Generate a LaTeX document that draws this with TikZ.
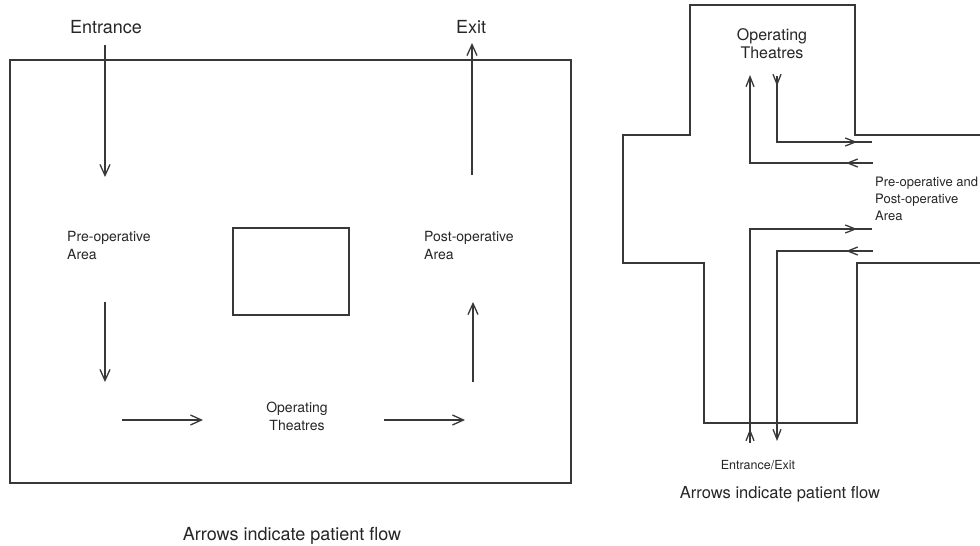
\documentclass[tikz,border=0pt]{standalone}
\usepackage{fontspec}
\setmainfont{TeX Gyre Heros}
\usetikzlibrary{arrows.meta}
\begin{document}
\begin{tikzpicture}[x=1pt,y=-1pt,
  wall/.style={draw=black!78, line width=1.3pt, line join=miter},
  flow/.style={draw=black!78, line width=1.3pt, -{Straight Barb[length=11pt,width=10pt]}},
  sflow/.style={draw=black!78, line width=1.3pt, -{Straight Barb[length=10pt,width=8pt]}},
  lab/.style={inner sep=0pt, text=black!85, align=left},
  clab/.style={inner sep=0pt, text=black!85, align=center}
]
\useasboundingbox (0,0) rectangle (980,546);

% ---------- left plan ----------
\draw[wall] (10,60) rectangle (571,483);
\draw[wall] (233,228) rectangle (349,315);

\node[clab, font=\fontsize{18}{22}\selectfont] (entr) at (106,27) {Entrance};
\node[clab, font=\fontsize{18}{22}\selectfont] (exit) at (471,27) {Exit};
\node[lab, anchor=west, font=\fontsize{14}{18}\selectfont] (pre) at (67,245) {Pre-operative\\Area};
\node[lab, anchor=west, font=\fontsize{14}{18}\selectfont] (post) at (424,245) {Post-operative\\Area};
\node[clab, font=\fontsize{14}{18}\selectfont] (ot) at (297,416) {Operating\\Theatres};
\node[clab, font=\fontsize{18}{22}\selectfont] (capL) at (292,536) {Arrows indicate patient flow};

\draw[flow] (105,45) -- (105,177);
\draw[flow] (472,175) -- (472,43);
\draw[flow] (105,302) -- (105,382);
\draw[flow] (122,420) -- (203,420);
\draw[flow] (384,420) -- (465,420);
\draw[flow] (473,382) -- (473,302);

% ---------- right plan (cross) ----------
\draw[wall] (980,135) -- (855,135) -- (855,5) -- (690,5) -- (690,135) -- (623,135)
  -- (623,263) -- (704,263) -- (704,423) -- (857,423) -- (857,263) -- (980,263);

\node[clab, font=\fontsize{16}{18}\selectfont] (otR) at (772,44) {Operating\\Theatres};
\node[lab, anchor=west, font=\fontsize{13}{17}\selectfont] (area) at (875,199) {Pre-operative and\\Post-operative\\Area};
\node[clab, font=\fontsize{12.5}{15}\selectfont] (ee) at (758,465) {Entrance/Exit};
\node[clab, font=\fontsize{16.5}{20}\selectfont] (capR) at (780,494) {Arrows indicate patient flow};

% theatres -> area
\draw[wall] (777,76) -- (777,142) -- (872,142);
\draw[sflow] (777,76) -- (777,86);
\draw[sflow] (840,142) -- (857,142);
% area -> theatres
\draw[sflow] (873,163) -- (750,163) -- (750,75);
\draw[sflow] (865,163) -- (846,163);
% entrance -> area
\draw[wall] (750,443) -- (750,229) -- (872,229);
\draw[sflow] (750,443) -- (750,429);
\draw[sflow] (840,229) -- (857,229);
% area -> exit
\draw[sflow] (873,251) -- (777,251) -- (777,441);
\draw[sflow] (865,251) -- (846,251);
\end{tikzpicture}
\end{document}
